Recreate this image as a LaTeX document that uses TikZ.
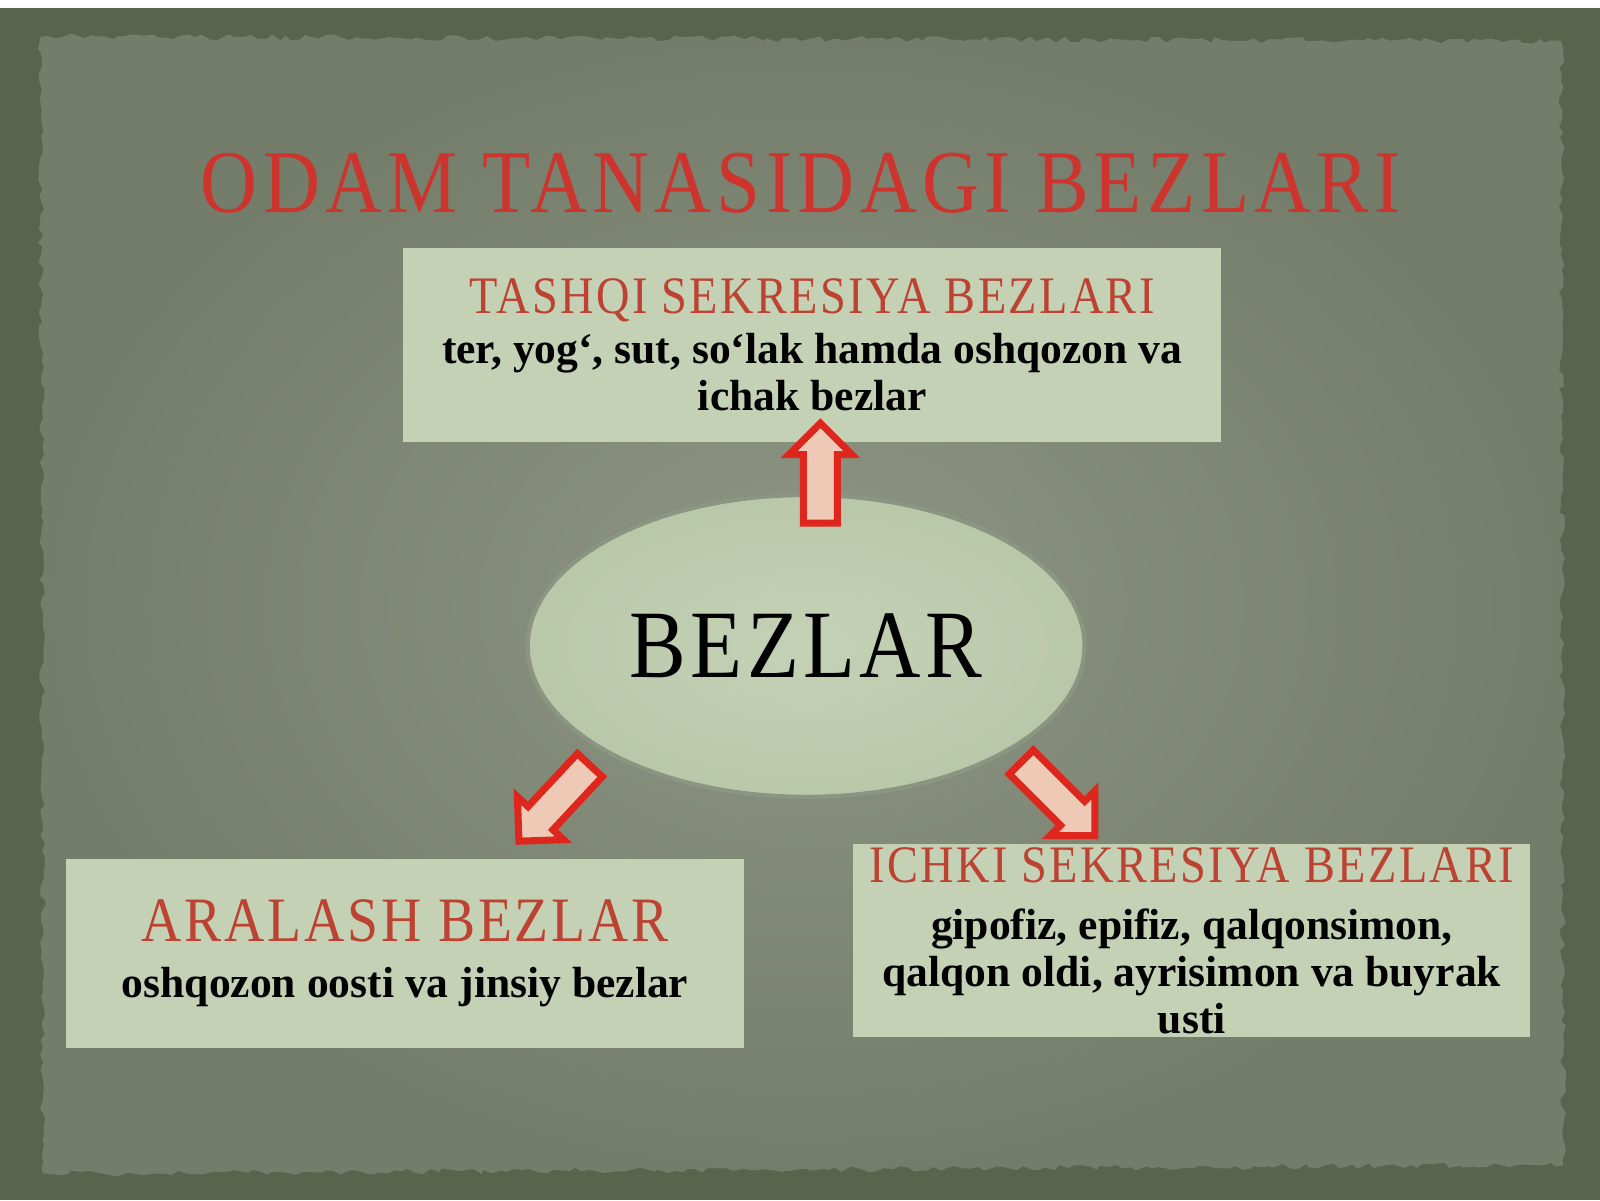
\documentclass[tikz,border=0pt]{standalone}
\usepackage{fontspec}
\setmainfont{Liberation Serif}
\newfontfamily\headfont[FakeStretch=0.88,LetterSpace=4.5]{Liberation Serif}
\newfontfamily\titlefont[FakeStretch=0.88,LetterSpace=6]{Liberation Serif}
\usetikzlibrary{shapes.geometric,shapes.arrows,decorations.pathmorphing}
\definecolor{frame_olive}{RGB}{88,100,76}
\definecolor{paper_dark}{RGB}{116,124,106}
\definecolor{paper_light}{RGB}{142,149,132}
\definecolor{box_green}{RGB}{197,209,181}
\definecolor{blob_edge}{RGB}{186,200,170}
\definecolor{blob_rim}{RGB}{140,148,130}
\definecolor{title_red}{RGB}{205,52,45}
\definecolor{head_red}{RGB}{188,66,50}
\definecolor{arrow_red}{RGB}{222,38,28}
\definecolor{arrow_pink}{RGB}{238,202,182}
\tikzstyle{box}=[rectangle,fill=box_green,align=center,inner sep=0pt,
  font=\bfseries\fontsize{12.4}{13.4}\selectfont]
\tikzstyle{blob}=[ellipse,inner color=box_green,outer color=blob_edge,
  draw=blob_rim,line width=1.2pt,minimum width=5.57cm,minimum height=3.02cm]
\tikzstyle{barrow}=[single arrow,draw=arrow_red,fill=arrow_pink,line width=2pt,
  inner sep=0.135cm,minimum width=0.5cm,single arrow head extend=0.145cm,
  single arrow head indent=0pt]
\tikzstyle{none}=[]

\begin{document}
\begin{tikzpicture}[x=0.010204cm,y=-0.010204cm]
        \useasboundingbox (0,0) rectangle (1568,1176);
        % frame and paper
        \fill [frame_olive] (0,0) rectangle (1568,1176);
        \fill [white] (0,0) rectangle (1568,8);
        \pgfmathsetseed{7}
        \shade [inner color=paper_light,outer color=paper_dark,
          decorate,decoration={random steps,segment length=0.07cm,amplitude=0.03cm}]
          (40,36) -- (1530,40) -- (1532,1142) -- (42,1150) -- cycle;
        % title
        \node [style=none,text=title_red,font=\titlefont\fontsize{25.5}{30}\selectfont] (t) at (785,180) {ODAM TANASIDAGI BEZLARI};
        % boxes
        \node [style=box,minimum width=8.18cm,minimum height=1.94cm] (0) at (796,338)
          {{\headfont\mdseries\color{head_red}\fontsize{15}{18}\selectfont TASHQI SEKRESIYA BEZLARI}\\[1pt]
          ter, yog‘, sut, so‘lak hamda oshqozon va\\ ichak bezlar};
        \node [style=blob] (1) at (790,633) {\headfont\fontsize{27.5}{30}\selectfont BEZLAR};
        \node [style=box,minimum width=6.79cm,minimum height=1.89cm] (2) at (397,934)
          {{\headfont\mdseries\color{head_red}\fontsize{18}{20}\selectfont ARALASH BEZLAR}\\[2.5pt]
          oshqozon oosti va jinsiy bezlar};
        \node [style=box,minimum width=6.77cm,minimum height=1.93cm] (3) at (1168,922)
          {{\headfont\mdseries\color{head_red}\fontsize{15}{18}\selectfont ICHKI SEKRESIYA BEZLARI}\\[3pt]
          gipofiz, epifiz, qalqonsimon,\\ qalqon oldi, ayrisimon va buyrak\\ usti};
        % arrows
        \node [style=barrow,rotate=90,minimum height=1.0cm] (4) at (804,472) {};
        \node [style=barrow,rotate=227,minimum height=1.04cm] (5) at (549,781) {};
        \node [style=barrow,rotate=-45,minimum height=1.04cm] (6) at (1031,777) {};
\end{tikzpicture}
\end{document}
